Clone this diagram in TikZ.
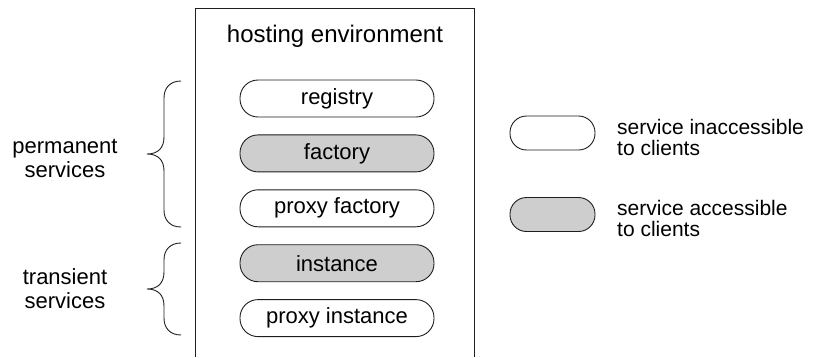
\documentclass[tikz,border=0pt]{standalone}
\usepackage{fontspec}
\setmainfont{Liberation Sans}
\usetikzlibrary{positioning}
\definecolor{myshade}{RGB}{206,206,206}
\definecolor{myline}{RGB}{30,30,30}
% left-pointing brace between two heights, with its back at x=#1
\newcommand\servicebrace[3]{
  \draw[bracket] (#1,#2) .. controls ({#1-11},#2) and ({#1-17},{#2+7}) .. ({#1-17},{#2+17})
    -- ({#1-17},{(#2+#3)/2-17}) .. controls ({#1-17},{(#2+#3)/2-6}) and ({#1-23},{(#2+#3)/2}) .. ({#1-34},{(#2+#3)/2})
    .. controls ({#1-23},{(#2+#3)/2}) and ({#1-17},{(#2+#3)/2+6}) .. ({#1-17},{(#2+#3)/2+17})
    -- ({#1-17},{#3-17}) .. controls ({#1-17},{#3-7}) and ({#1-11},#3) .. (#1,#3);
}

\begin{document}
\begin{tikzpicture}[
    x=1pt,y=-1pt,
    node distance=17pt,
    pill/.style={draw=myline, fill=#1, line width=0.9pt, rounded corners=18pt,
                 minimum width=194pt, minimum height=37pt, inner sep=0pt,
                 font=\fontsize{22}{26}\selectfont},
    pill/.default=white,
    keypill/.style={pill=#1, minimum width=85pt, minimum height=34pt, rounded corners=16.5pt},
    keypill/.default=white,
    keytext/.style={anchor=west, align=left, inner sep=0pt, font=\fontsize{21}{21}\selectfont},
    sidelabel/.style={align=center, inner sep=0pt, font=\fontsize{22}{24}\selectfont},
    bracket/.style={draw=myline, line width=0.9pt},]

    \useasboundingbox (0,0) rectangle (817,357);

    % open box of the hosting environment
    \draw[myline, line width=0.9pt] (195,357) |- (474,8) -- (474,357);
    \node[font=\fontsize{24}{28}\selectfont] (title) at (335,36) {hosting environment};

    % the five services
    \node[pill] (registry) at (337,98.5) {registry};
    \node[pill=myshade, below=of registry] (factory) {factory};
    \node[pill, below=of factory] (pfactory) {proxy factory};
    \node[pill=myshade, below=of pfactory] (instance) {instance};
    \node[pill, below=of instance] (pinstance) {proxy instance};

    % braces and their labels
    \servicebrace{181}{81}{227}
    \servicebrace{181}{243}{335}
    \node[sidelabel] (permanent) at (65,158) {permanent\\services};
    \node[sidelabel] (transient) at (65,289) {transient\\services};

    % key
    \node[keypill] (keyplain) at (552.5,133) {};
    \node[keypill=myshade] (keyshaded) at (552.5,214.5) {};
    \node[keytext] (plaintext) at (617,137) {service inaccessible\\to clients};
    \node[keytext] (shadedtext) at (617,218) {service accessible\\to clients};

\end{tikzpicture}
\end{document}
